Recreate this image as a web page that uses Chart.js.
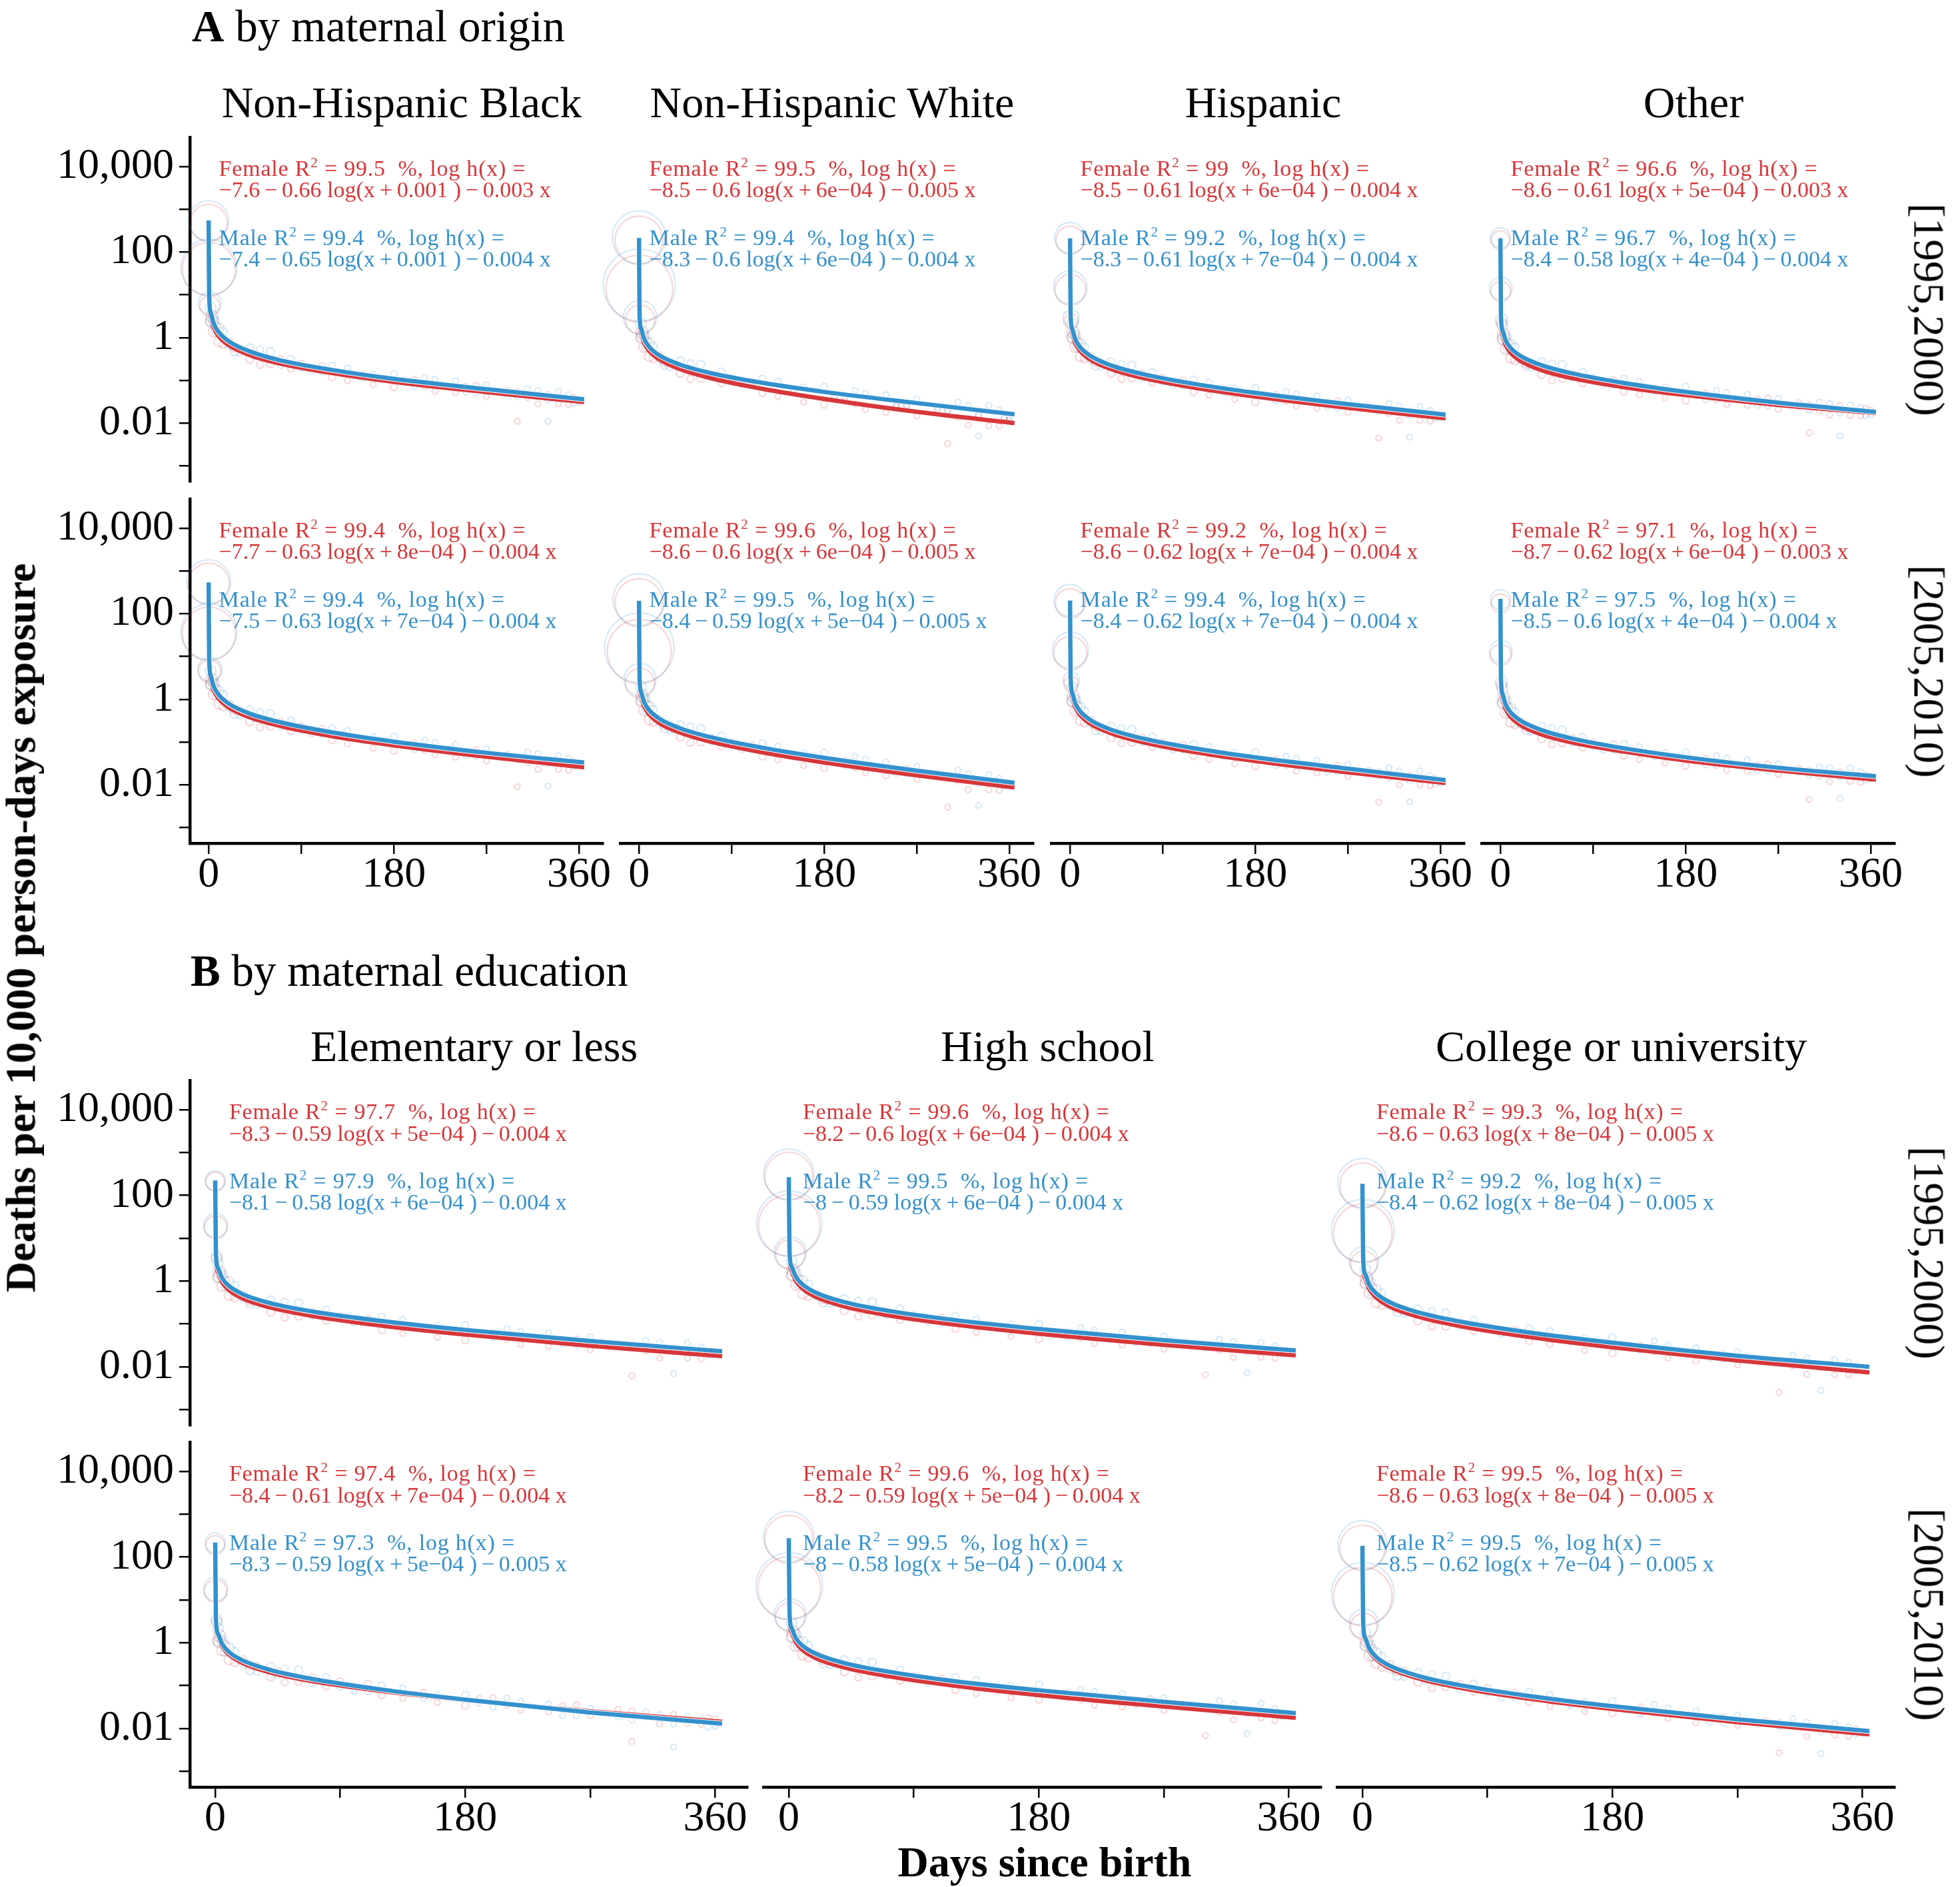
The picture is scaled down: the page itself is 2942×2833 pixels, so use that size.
<!DOCTYPE html>
<html><head><meta charset="utf-8">
<script src="https://cdn.jsdelivr.net/npm/chart.js"></script>
<style>
html,body{margin:0;padding:0;background:#fff;}
body{position:relative;width:2942px;height:2833px;overflow:hidden;font-family:'Liberation Serif','Times New Roman',serif;color:#000;}
canvas{position:absolute;}
.t{position:absolute;white-space:pre;}
.l1{letter-spacing:0.8px;}
.sup{position:relative;top:-0.62em;font-size:0.62em;line-height:0;}
</style></head><body>
<script>
// ===================== DATA =====================
const curveDays = [0, 0.5, 2, 5, 10, 20, 40, 70, 120, 180, 270, 365];
const scatterDaysF = [3, 10, 25, 60, 110, 180, 260, 340, 300];
const scatterDaysM = [3, 10, 25, 60, 110, 180, 260, 340, 330];
const dotDeaths = [9, 6, 5, 4, 3, 3, 2, 2, 2];
const scatterDays2 = [5, 20, 40, 70, 120, 150, 220, 300, 355];
const dotDeaths2 = [7, 4, 4, 3, 3, 2, 2, 2, 2];
const scatterDays3 = [2, 7, 14, 30, 50, 90, 135, 200, 240, 320];
const dotDeaths3 = [7, 5, 4, 3, 3, 3, 2, 2, 2, 2];
const scatterDays4 = [45, 80, 100, 160, 190, 210, 250, 270, 290, 310, 330, 350, 360];
const dotDeaths4 = [3, 3, 2, 2, 2, 2, 2, 2, 2, 2, 2, 2, 2];
const xTickValues = [0, 90, 180, 270, 360];
const xTickLabels = ['0', '', '180', '', '360'];
const yTickValues = [0.001, 0.01, 0.1, 1, 10, 100, 1000, 10000];
const yTickLabels = ['', '0.01', '', '1', '', '100', '', '10,000'];
const originCategories = ['Non-Hispanic Black', 'Non-Hispanic White', 'Hispanic', 'Other'];
const educationCategories = ['Elementary or less', 'High school', 'College or university'];
const periodLabels = ['[1995,2000)', '[2005,2010)'];

// fitted hazard curves (deaths per 10,000 person-days) at curveDays
const fitF_A95_black = [477, 7.89, 3.15, 1.71, 1.06, 0.653, 0.389, 0.245, 0.148, 0.092, 0.053, 0.031];
const fitM_A95_black = [545, 9.57, 3.86, 2.10, 1.32, 0.805, 0.473, 0.292, 0.175, 0.108, 0.062, 0.036];
const fitF_A95_white = [175, 3.08, 1.33, 0.756, 0.486, 0.305, 0.182, 0.112, 0.0632, 0.0366, 0.0183, 0.0100];
const fitM_A95_white = [213, 3.76, 1.63, 0.929, 0.600, 0.380, 0.232, 0.147, 0.0871, 0.0536, 0.0294, 0.0160];
const fitF_A95_hisp = [188, 3.10, 1.32, 0.748, 0.480, 0.302, 0.183, 0.115, 0.0679, 0.0417, 0.0227, 0.0129];
const fitM_A95_hisp = [209, 3.78, 1.61, 0.914, 0.586, 0.369, 0.223, 0.141, 0.0830, 0.0509, 0.0277, 0.0158];
const fitF_A95_other = [190, 2.81, 1.20, 0.679, 0.439, 0.279, 0.172, 0.112, 0.0693, 0.0452, 0.0265, 0.0172];
const fitM_A95_other = [210, 3.36, 1.49, 0.867, 0.568, 0.365, 0.225, 0.145, 0.0867, 0.0538, 0.0300, 0.0182];
const fitF_A05_black = [405, 7.00, 2.90, 1.61, 1.02, 0.634, 0.378, 0.236, 0.137, 0.0836, 0.0452, 0.0256];
const fitM_A05_black = [537, 8.55, 3.55, 1.97, 1.25, 0.774, 0.461, 0.288, 0.168, 0.102, 0.0560, 0.0330];
const fitF_A05_white = [158, 2.79, 1.20, 0.684, 0.440, 0.276, 0.165, 0.101, 0.0572, 0.0331, 0.0166, 0.0086];
const fitM_A05_white = [200, 3.37, 1.48, 0.849, 0.550, 0.348, 0.209, 0.129, 0.0733, 0.0427, 0.0214, 0.0111];
const fitF_A05_hisp = [166, 2.82, 1.19, 0.665, 0.424, 0.265, 0.159, 0.0998, 0.0586, 0.0358, 0.0195, 0.0110];
const fitM_A05_hisp = [203, 3.44, 1.45, 0.812, 0.518, 0.324, 0.194, 0.122, 0.0716, 0.0437, 0.0238, 0.0128];
const fitF_A05_other = [166, 2.56, 1.08, 0.605, 0.387, 0.245, 0.150, 0.0968, 0.0597, 0.0370, 0.0215, 0.0132];
const fitM_A05_other = [222, 3.08, 1.33, 0.760, 0.491, 0.311, 0.190, 0.120, 0.0713, 0.0440, 0.0250, 0.0158];
const fitF_B95_elem = [220, 3.73, 1.64, 0.944, 0.614, 0.392, 0.240, 0.153, 0.0912, 0.0565, 0.0310, 0.0177];
const fitM_B95_elem = [224, 4.53, 2.01, 1.17, 0.767, 0.493, 0.304, 0.195, 0.117, 0.0726, 0.0401, 0.0230];
const fitF_B95_high = [235, 4.15, 1.80, 1.03, 0.663, 0.420, 0.256, 0.162, 0.0962, 0.0592, 0.0325, 0.0185];
const fitM_B95_high = [267, 5.04, 2.21, 1.27, 0.828, 0.528, 0.324, 0.207, 0.123, 0.0762, 0.0419, 0.0240];
const fitF_B95_coll = [164, 2.84, 1.18, 0.652, 0.410, 0.252, 0.148, 0.0893, 0.0495, 0.0284, 0.0140, 0.0074];
const fitM_B95_coll = [187, 3.45, 1.45, 0.809, 0.513, 0.318, 0.187, 0.114, 0.0634, 0.0366, 0.0181, 0.0100];
const fitF_B05_elem = [189, 3.43, 1.46, 0.826, 0.530, 0.333, 0.202, 0.127, 0.0750, 0.0460, 0.0251, 0.0143];
const fitM_B05_elem = [220, 3.73, 1.63, 0.938, 0.607, 0.384, 0.231, 0.143, 0.0809, 0.0472, 0.0237, 0.0130];
const fitF_B05_high = [244, 4.13, 1.81, 1.04, 0.678, 0.433, 0.265, 0.169, 0.099, 0.0600, 0.0325, 0.0178];
const fitM_B05_high = [276, 5.00, 2.23, 1.29, 0.847, 0.545, 0.336, 0.216, 0.126, 0.0780, 0.0420, 0.0228];
const fitF_B05_coll = [164, 2.84, 1.18, 0.652, 0.410, 0.252, 0.148, 0.0893, 0.0495, 0.0284, 0.0140, 0.0073];
const fitM_B05_coll = [184, 3.12, 1.31, 0.732, 0.464, 0.288, 0.169, 0.103, 0.0574, 0.0331, 0.0164, 0.0087];

// observed daily rates (small circles) at scatterDaysF / scatterDaysM
const dotsF_A95_black = [3.15, 0.80, 0.59, 0.245, 0.215, 0.069, 0.077, 0.028, 0.011];
const dotsM_A95_black = [2.5, 1.65, 0.48, 0.47, 0.16, 0.14, 0.051, 0.056, 0.011];
const dotsF_A95_white = [1.33, 0.36, 0.27, 0.112, 0.092, 0.027, 0.027, 0.0086, 0.0033];
const dotsM_A95_white = [1.06, 0.75, 0.23, 0.235, 0.081, 0.070, 0.024, 0.026, 0.005];
const dotsF_A95_hisp = [1.32, 0.36, 0.27, 0.115, 0.098, 0.031, 0.033, 0.0116, 0.0045];
const dotsM_A95_hisp = [1.05, 0.73, 0.22, 0.226, 0.077, 0.066, 0.023, 0.0245, 0.0047];
const dotsF_A95_other = [1.2, 0.33, 0.25, 0.112, 0.10, 0.034, 0.039, 0.015, 0.0059];
const dotsM_A95_other = [0.97, 0.71, 0.22, 0.23, 0.081, 0.070, 0.025, 0.0265, 0.0051];
const dotsF_A05_black = [2.9, 0.77, 0.57, 0.236, 0.20, 0.063, 0.066, 0.023, 0.009];
const dotsM_A05_black = [2.3, 1.56, 0.46, 0.46, 0.156, 0.133, 0.046, 0.048, 0.0094];
const dotsF_A05_white = [1.2, 0.33, 0.25, 0.101, 0.083, 0.025, 0.024, 0.0077, 0.003];
const dotsM_A05_white = [0.96, 0.69, 0.21, 0.206, 0.068, 0.056, 0.018, 0.0172, 0.0033];
const dotsF_A05_hisp = [1.19, 0.32, 0.24, 0.10, 0.085, 0.027, 0.028, 0.0099, 0.0039];
const dotsM_A05_hisp = [0.94, 0.65, 0.19, 0.195, 0.067, 0.057, 0.020, 0.021, 0.004];
const dotsF_A05_other = [1.08, 0.29, 0.22, 0.097, 0.087, 0.028, 0.031, 0.012, 0.0046];
const dotsM_A05_other = [0.86, 0.61, 0.19, 0.19, 0.066, 0.057, 0.021, 0.0245, 0.0047];
const dotsF_B95_elem = [1.64, 0.46, 0.35, 0.153, 0.132, 0.042, 0.045, 0.016, 0.0062];
const dotsM_B95_elem = [1.3, 0.96, 0.30, 0.31, 0.109, 0.094, 0.033, 0.036, 0.0069];
const dotsF_B95_high = [1.8, 0.50, 0.38, 0.162, 0.14, 0.044, 0.047, 0.0167, 0.0065];
const dotsM_B95_high = [1.44, 1.03, 0.32, 0.33, 0.114, 0.099, 0.035, 0.037, 0.0072];
const dotsF_B95_coll = [1.18, 0.31, 0.23, 0.089, 0.072, 0.021, 0.020, 0.0065, 0.0025];
const dotsM_B95_coll = [0.94, 0.64, 0.19, 0.18, 0.059, 0.048, 0.015, 0.0146, 0.0028];
const dotsF_B05_elem = [1.46, 0.40, 0.30, 0.127, 0.109, 0.0345, 0.036, 0.013, 0.005];
const dotsM_B05_elem = [1.06, 0.76, 0.23, 0.23, 0.075, 0.061, 0.020, 0.019, 0.0037];
const dotsF_B05_high = [1.81, 0.51, 0.39, 0.169, 0.146, 0.047, 0.050, 0.0178, 0.0069];
const dotsM_B05_high = [1.45, 1.06, 0.33, 0.35, 0.12, 0.105, 0.037, 0.039, 0.0076];
const dotsF_B05_coll = [1.1, 0.33, 0.22, 0.095, 0.068, 0.023, 0.019, 0.007, 0.0027];
const dotsM_B05_coll = [0.85, 0.58, 0.17, 0.165, 0.053, 0.043, 0.0136, 0.0132, 0.0026];

// more observed daily rates at scatterDays2
const dots2F_A95_black = [1.37, 0.78, 0.31, 0.31, 0.118, 0.14, 0.056, 0.054, 0.040];
const dots2M_A95_black = [2.5, 0.68, 0.57, 0.23, 0.22, 0.11, 0.106, 0.042, 0.030];
const dots2F_A95_white = [0.60, 0.37, 0.146, 0.14, 0.051, 0.058, 0.021, 0.019, 0.0129];
const dots2M_A95_white = [1.11, 0.32, 0.28, 0.118, 0.109, 0.054, 0.050, 0.020, 0.0132];
const dots2F_A95_hisp = [0.60, 0.36, 0.146, 0.144, 0.054, 0.064, 0.025, 0.023, 0.0166];
const dots2M_A95_hisp = [1.10, 0.31, 0.27, 0.113, 0.104, 0.052, 0.048, 0.0188, 0.013];
const dots2F_A95_other = [0.54, 0.33, 0.138, 0.14, 0.055, 0.067, 0.027, 0.027, 0.022];
const dots2M_A95_other = [1.04, 0.31, 0.27, 0.116, 0.108, 0.054, 0.052, 0.020, 0.015];
const dots2F_A05_black = [1.29, 0.76, 0.30, 0.295, 0.110, 0.128, 0.050, 0.046, 0.033];
const dots2M_A05_black = [2.36, 0.66, 0.55, 0.23, 0.21, 0.105, 0.098, 0.038, 0.027];
const dots2F_A05_white = [0.55, 0.33, 0.132, 0.126, 0.046, 0.052, 0.019, 0.017, 0.011];
const dots2M_A05_white = [1.02, 0.30, 0.25, 0.103, 0.092, 0.045, 0.040, 0.0146, 0.0091];
const dots2F_A05_hisp = [0.53, 0.32, 0.127, 0.125, 0.047, 0.055, 0.021, 0.020, 0.0141];
const dots2M_A05_hisp = [0.97, 0.275, 0.23, 0.098, 0.090, 0.045, 0.041, 0.016, 0.0106];
const dots2F_A05_other = [0.48, 0.29, 0.12, 0.121, 0.048, 0.056, 0.022, 0.022, 0.017];
const dots2M_A05_other = [0.91, 0.26, 0.23, 0.096, 0.089, 0.045, 0.042, 0.017, 0.013];
const dots2F_B95_elem = [0.76, 0.47, 0.19, 0.19, 0.073, 0.086, 0.033, 0.032, 0.023];
const dots2M_B95_elem = [1.40, 0.42, 0.36, 0.156, 0.146, 0.074, 0.068, 0.027, 0.019];
const dots2F_B95_high = [0.82, 0.50, 0.205, 0.20, 0.077, 0.090, 0.035, 0.033, 0.024];
const dots2M_B95_high = [1.52, 0.45, 0.39, 0.166, 0.154, 0.078, 0.072, 0.028, 0.020];
const dots2F_B95_coll = [0.52, 0.30, 0.118, 0.112, 0.040, 0.045, 0.016, 0.0143, 0.0095];
const dots2M_B95_coll = [0.97, 0.27, 0.22, 0.091, 0.079, 0.038, 0.032, 0.0123, 0.0082];
const dots2F_B05_elem = [0.66, 0.40, 0.16, 0.159, 0.060, 0.071, 0.027, 0.026, 0.018];
const dots2M_B05_elem = [1.13, 0.33, 0.28, 0.114, 0.101, 0.050, 0.044, 0.016, 0.0107];
const dots2F_B05_high = [0.83, 0.52, 0.21, 0.21, 0.079, 0.092, 0.035, 0.033, 0.023];
const dots2M_B05_high = [1.55, 0.46, 0.40, 0.173, 0.158, 0.079, 0.073, 0.029, 0.019];
const dots2F_B05_coll = [0.50, 0.31, 0.12, 0.108, 0.042, 0.043, 0.017, 0.0138, 0.0098];
const dots2M_B05_coll = [0.88, 0.245, 0.20, 0.082, 0.072, 0.035, 0.030, 0.0111, 0.0072];

// further observed daily rates at scatterDays3
const dots3F_A95_black = [2.36, 1.83, 0.70, 0.56, 0.23, 0.243, 0.098, 0.104, 0.051, 0.028];
const dots3M_A95_black = [5.0, 1.39, 1.36, 0.45, 0.52, 0.196, 0.193, 0.070, 0.097, 0.058];
const dots3F_A95_white = [1.0, 0.81, 0.32, 0.26, 0.107, 0.111, 0.042, 0.041, 0.0178, 0.009];
const dots3M_A95_white = [2.1, 0.61, 0.62, 0.21, 0.25, 0.098, 0.096, 0.035, 0.046, 0.026];
const dots3F_A95_hisp = [0.99, 0.80, 0.32, 0.26, 0.108, 0.114, 0.045, 0.047, 0.022, 0.0116];
const dots3M_A95_hisp = [2.1, 0.60, 0.60, 0.21, 0.24, 0.094, 0.091, 0.033, 0.043, 0.025];
const dots3F_A95_other = [0.90, 0.73, 0.29, 0.24, 0.101, 0.111, 0.046, 0.051, 0.026, 0.0155];
const dots3M_A95_other = [1.94, 0.57, 0.59, 0.20, 0.245, 0.097, 0.095, 0.035, 0.047, 0.029];
const dots3F_A05_black = [2.18, 1.72, 0.67, 0.55, 0.22, 0.234, 0.090, 0.094, 0.044, 0.023];
const dots3M_A05_black = [4.6, 1.30, 1.29, 0.43, 0.50, 0.193, 0.185, 0.066, 0.088, 0.053];
const dots3F_A05_white = [0.90, 0.73, 0.29, 0.24, 0.097, 0.10, 0.038, 0.037, 0.0161, 0.0077];
const dots3M_A05_white = [1.92, 0.56, 0.57, 0.195, 0.23, 0.086, 0.081, 0.028, 0.034, 0.018];
const dots3F_A05_hisp = [0.89, 0.71, 0.28, 0.23, 0.094, 0.099, 0.039, 0.040, 0.019, 0.0099];
const dots3M_A05_hisp = [1.89, 0.54, 0.53, 0.18, 0.21, 0.082, 0.079, 0.028, 0.037, 0.021];
const dots3F_A05_other = [0.81, 0.65, 0.255, 0.21, 0.089, 0.096, 0.039, 0.042, 0.021, 0.0119];
const dots3M_A05_other = [1.73, 0.50, 0.51, 0.174, 0.21, 0.080, 0.078, 0.029, 0.039, 0.025];
const dots3F_B95_elem = [1.23, 1.01, 0.41, 0.34, 0.142, 0.151, 0.060, 0.064, 0.030, 0.016];
const dots3M_B95_elem = [2.6, 0.77, 0.79, 0.28, 0.33, 0.131, 0.129, 0.047, 0.063, 0.037];
const dots3F_B95_high = [1.35, 1.10, 0.44, 0.36, 0.151, 0.160, 0.063, 0.067, 0.032, 0.0167];
const dots3M_B95_high = [2.9, 0.84, 0.85, 0.30, 0.35, 0.139, 0.135, 0.050, 0.066, 0.039];
const dots3F_B95_coll = [0.89, 0.70, 0.27, 0.22, 0.087, 0.088, 0.033, 0.032, 0.0136, 0.0067];
const dots3M_B95_coll = [1.89, 0.53, 0.53, 0.178, 0.20, 0.076, 0.070, 0.024, 0.028, 0.016];
const dots3F_B05_elem = [1.10, 0.88, 0.35, 0.29, 0.119, 0.126, 0.050, 0.052, 0.024, 0.0129];
const dots3M_B05_elem = [2.1, 0.62, 0.63, 0.215, 0.25, 0.096, 0.089, 0.031, 0.037, 0.021];
const dots3F_B05_high = [1.36, 1.11, 0.45, 0.37, 0.156, 0.167, 0.065, 0.068, 0.032, 0.016];
const dots3M_B05_high = [2.9, 0.85, 0.87, 0.305, 0.37, 0.145, 0.139, 0.051, 0.066, 0.037];
const dots3F_B05_coll = [0.88, 0.70, 0.27, 0.22, 0.087, 0.088, 0.033, 0.032, 0.0136, 0.0066];
const dots3M_B05_coll = [1.70, 0.48, 0.48, 0.161, 0.184, 0.069, 0.063, 0.0215, 0.026, 0.014];

// later-infancy observed daily rates at scatterDays4
const dots4F_A95_black = [0.416, 0.189, 0.198, 0.079, 0.101, 0.071, 0.072, 0.042, 0.059, 0.039, 0.047, 0.027, 0.036];
const dots4M_A95_black = [0.374, 0.318, 0.158, 0.140, 0.089, 0.117, 0.053, 0.078, 0.049, 0.064, 0.035, 0.046, 0.031];
const dots4F_A95_white = [0.195, 0.086, 0.085, 0.031, 0.040, 0.028, 0.025, 0.0146, 0.0205, 0.0135, 0.015, 0.0086, 0.0117];
const dots4M_A95_white = [0.183, 0.160, 0.078, 0.070, 0.044, 0.058, 0.025, 0.037, 0.023, 0.031, 0.0154, 0.0205, 0.0139];
const dots4F_A95_hisp = [0.196, 0.089, 0.091, 0.036, 0.046, 0.032, 0.031, 0.018, 0.025, 0.0168, 0.0194, 0.0111, 0.0151];
const dots4M_A95_hisp = [0.176, 0.154, 0.075, 0.066, 0.042, 0.055, 0.024, 0.035, 0.022, 0.029, 0.0152, 0.020, 0.0137];
const dots4F_A95_other = [0.184, 0.086, 0.093, 0.039, 0.050, 0.035, 0.036, 0.021, 0.030, 0.0196, 0.026, 0.0148, 0.020];
const dots4M_A95_other = [0.178, 0.158, 0.078, 0.070, 0.044, 0.058, 0.026, 0.0375, 0.0237, 0.031, 0.0175, 0.023, 0.0158];
const dots4F_A05_black = [0.404, 0.182, 0.184, 0.072, 0.092, 0.064, 0.061, 0.036, 0.051, 0.033, 0.038, 0.022, 0.030];
const dots4M_A05_black = [0.364, 0.314, 0.151, 0.133, 0.084, 0.110, 0.048, 0.070, 0.044, 0.058, 0.032, 0.042, 0.029];
const dots4F_A05_white = [0.177, 0.078, 0.077, 0.028, 0.036, 0.025, 0.022, 0.0133, 0.0186, 0.0123, 0.0129, 0.0074, 0.0101];
const dots4M_A05_white = [0.165, 0.141, 0.066, 0.056, 0.035, 0.046, 0.0184, 0.027, 0.0169, 0.022, 0.0107, 0.0142, 0.0097];
const dots4F_A05_hisp = [0.170, 0.077, 0.079, 0.031, 0.039, 0.028, 0.026, 0.0156, 0.0218, 0.0144, 0.0165, 0.0095, 0.0129];
const dots4M_A05_hisp = [0.153, 0.133, 0.064, 0.057, 0.036, 0.047, 0.020, 0.030, 0.0188, 0.025, 0.0123, 0.0164, 0.0111];
const dots4F_A05_other = [0.161, 0.075, 0.080, 0.032, 0.041, 0.028, 0.029, 0.0172, 0.024, 0.0159, 0.0198, 0.0114, 0.0154];
const dots4M_A05_other = [0.150, 0.131, 0.064, 0.057, 0.036, 0.048, 0.0215, 0.031, 0.0198, 0.026, 0.0152, 0.020, 0.0137];
const dots4F_B95_elem = [0.257, 0.118, 0.122, 0.049, 0.062, 0.044, 0.042, 0.025, 0.035, 0.023, 0.027, 0.0152, 0.021];
const dots4M_B95_elem = [0.240, 0.213, 0.105, 0.094, 0.060, 0.078, 0.034, 0.050, 0.032, 0.042, 0.022, 0.029, 0.020];
const dots4F_B95_high = [0.274, 0.125, 0.129, 0.051, 0.065, 0.046, 0.044, 0.026, 0.036, 0.024, 0.028, 0.0159, 0.0216];
const dots4M_B95_high = [0.256, 0.226, 0.111, 0.099, 0.062, 0.082, 0.036, 0.052, 0.033, 0.044, 0.023, 0.031, 0.021];
const dots4F_B95_coll = [0.158, 0.069, 0.066, 0.024, 0.031, 0.022, 0.0189, 0.0112, 0.0157, 0.0104, 0.0111, 0.0064, 0.0087];
const dots4M_B95_coll = [0.148, 0.124, 0.057, 0.048, 0.030, 0.040, 0.0156, 0.0226, 0.0143, 0.0188, 0.0096, 0.0128, 0.0087];
const dots4F_B05_elem = [0.216, 0.098, 0.100, 0.040, 0.051, 0.035, 0.034, 0.020, 0.028, 0.0186, 0.0215, 0.0123, 0.0167];
const dots4M_B05_elem = [0.182, 0.156, 0.073, 0.061, 0.039, 0.051, 0.020, 0.030, 0.0187, 0.0246, 0.0125, 0.0166, 0.0113];
const dots4F_B05_high = [0.284, 0.130, 0.133, 0.052, 0.066, 0.046, 0.044, 0.026, 0.036, 0.024, 0.027, 0.0153, 0.0208];
const dots4M_B05_high = [0.265, 0.235, 0.113, 0.101, 0.064, 0.084, 0.036, 0.0525, 0.033, 0.044, 0.0219, 0.029, 0.0198];
const dots4F_B05_coll = [0.150, 0.072, 0.064, 0.025, 0.030, 0.023, 0.0180, 0.0118, 0.0150, 0.0108, 0.0105, 0.0066, 0.0083];
const dots4M_B05_coll = [0.134, 0.112, 0.052, 0.043, 0.027, 0.036, 0.0141, 0.0205, 0.013, 0.0171, 0.0084, 0.0111, 0.0076];

// first-day observations: [day, rate, deaths]
const bigF_A95_black = [[0,480,87],[0.3,40,178],[1,5.5,25]];
const bigM_A95_black = [[0,540,100],[0.3,44,196],[1,6.5,32]];
const bigF_A95_white = [[0,190,144],[0.3,14,278],[1,2.6,54]];
const bigM_A95_white = [[0,220,178],[0.3,17,324],[1,3.0,69]];
const bigF_A95_hisp = [[0,190,49],[0.3,13,59],[1,2.4,13]];
const bigM_A95_hisp = [[0,215,59],[0.3,15,69],[1,2.9,16]];
const bigF_A95_other = [[0,190,22],[0.3,12,25],[1,2.2,7]];
const bigM_A95_other = [[0,215,25],[0.3,14,32],[1,2.6,9]];
const bigF_A05_black = [[0,500,107],[0.3,34,178],[1,4.5,32]];
const bigM_A05_black = [[0,560,121],[0.3,38,196],[1,5,36]];
const bigF_A05_white = [[0,180,144],[0.3,13,256],[1,2.4,54]];
const bigM_A05_white = [[0,215,169],[0.3,16,300],[1,2.9,64]];
const bigF_A05_hisp = [[0,175,54],[0.3,12,69],[1,2.3,13]];
const bigM_A05_hisp = [[0,205,64],[0.3,14,81],[1,2.8,16]];
const bigF_A05_other = [[0,175,22],[0.3,11,28],[1,2.1,7]];
const bigM_A05_other = [[0,215,25],[0.3,13,32],[1,2.5,9]];
const bigF_B95_elem = [[0,210,22],[0.3,18,32],[1,3.4,7]];
const bigM_B95_elem = [[0,220,25],[0.3,20,36],[1,3.8,7]];
const bigF_B95_high = [[0,280,144],[0.3,20,235],[1,4.2,54]];
const bigM_B95_high = [[0,310,160],[0.3,22,267],[1,4.6,64]];
const bigF_B95_coll = [[0,170,128],[0.3,13,215],[1,2.5,44]];
const bigM_B95_coll = [[0,195,152],[0.3,15,245],[1,2.9,54]];
const bigF_B05_elem = [[0,190,22],[0.3,16,32],[1,3.1,7]];
const bigM_B05_elem = [[0,215,25],[0.3,18,36],[1,3.5,7]];
const bigF_B05_high = [[0,260,144],[0.3,19,245],[1,4.0,54]];
const bigM_B05_high = [[0,300,160],[0.3,21,278],[1,4.5,64]];
const bigF_B05_coll = [[0,165,128],[0.3,12,215],[1,2.4,44]];
const bigM_B05_coll = [[0,190,152],[0.3,14,245],[1,2.8,54]];

// fit annotations (panel order: A 1995 x4, A 2005 x4, B 1995 x3, B 2005 x3)
const r2Female = ['99.5','99.5','99','96.6','99.4','99.6','99.2','97.1','97.7','99.6','99.3','97.4','99.6','99.5'];
const r2Male   = ['99.4','99.4','99.2','96.7','99.4','99.5','99.4','97.5','97.9','99.5','99.2','97.3','99.5','99.5'];
const eqFemale = [
 '-7.6 - 0.66 log(x + 0.001 ) - 0.003 x','-8.5 - 0.6 log(x + 6e-04 ) - 0.005 x',
 '-8.5 - 0.61 log(x + 6e-04 ) - 0.004 x','-8.6 - 0.61 log(x + 5e-04 ) - 0.003 x',
 '-7.7 - 0.63 log(x + 8e-04 ) - 0.004 x','-8.6 - 0.6 log(x + 6e-04 ) - 0.005 x',
 '-8.6 - 0.62 log(x + 7e-04 ) - 0.004 x','-8.7 - 0.62 log(x + 6e-04 ) - 0.003 x',
 '-8.3 - 0.59 log(x + 5e-04 ) - 0.004 x','-8.2 - 0.6 log(x + 6e-04 ) - 0.004 x',
 '-8.6 - 0.63 log(x + 8e-04 ) - 0.005 x','-8.4 - 0.61 log(x + 7e-04 ) - 0.004 x',
 '-8.2 - 0.59 log(x + 5e-04 ) - 0.004 x','-8.6 - 0.63 log(x + 8e-04 ) - 0.005 x'];
const eqMale = [
 '-7.4 - 0.65 log(x + 0.001 ) - 0.004 x','-8.3 - 0.6 log(x + 6e-04 ) - 0.004 x',
 '-8.3 - 0.61 log(x + 7e-04 ) - 0.004 x','-8.4 - 0.58 log(x + 4e-04 ) - 0.004 x',
 '-7.5 - 0.63 log(x + 7e-04 ) - 0.004 x','-8.4 - 0.59 log(x + 5e-04 ) - 0.005 x',
 '-8.4 - 0.62 log(x + 7e-04 ) - 0.004 x','-8.5 - 0.6 log(x + 4e-04 ) - 0.004 x',
 '-8.1 - 0.58 log(x + 6e-04 ) - 0.004 x','-8 - 0.59 log(x + 6e-04 ) - 0.004 x',
 '-8.4 - 0.62 log(x + 8e-04 ) - 0.005 x','-8.3 - 0.59 log(x + 5e-04 ) - 0.005 x',
 '-8 - 0.58 log(x + 5e-04 ) - 0.004 x','-8.5 - 0.62 log(x + 7e-04 ) - 0.005 x'];

const panelData = [
 [fitF_A95_black, fitM_A95_black, bigF_A95_black, bigM_A95_black, dotsF_A95_black, dotsM_A95_black, dots2F_A95_black, dots2M_A95_black, dots3F_A95_black, dots3M_A95_black, dots4F_A95_black, dots4M_A95_black],
 [fitF_A95_white, fitM_A95_white, bigF_A95_white, bigM_A95_white, dotsF_A95_white, dotsM_A95_white, dots2F_A95_white, dots2M_A95_white, dots3F_A95_white, dots3M_A95_white, dots4F_A95_white, dots4M_A95_white],
 [fitF_A95_hisp, fitM_A95_hisp, bigF_A95_hisp, bigM_A95_hisp, dotsF_A95_hisp, dotsM_A95_hisp, dots2F_A95_hisp, dots2M_A95_hisp, dots3F_A95_hisp, dots3M_A95_hisp, dots4F_A95_hisp, dots4M_A95_hisp],
 [fitF_A95_other, fitM_A95_other, bigF_A95_other, bigM_A95_other, dotsF_A95_other, dotsM_A95_other, dots2F_A95_other, dots2M_A95_other, dots3F_A95_other, dots3M_A95_other, dots4F_A95_other, dots4M_A95_other],
 [fitF_A05_black, fitM_A05_black, bigF_A05_black, bigM_A05_black, dotsF_A05_black, dotsM_A05_black, dots2F_A05_black, dots2M_A05_black, dots3F_A05_black, dots3M_A05_black, dots4F_A05_black, dots4M_A05_black],
 [fitF_A05_white, fitM_A05_white, bigF_A05_white, bigM_A05_white, dotsF_A05_white, dotsM_A05_white, dots2F_A05_white, dots2M_A05_white, dots3F_A05_white, dots3M_A05_white, dots4F_A05_white, dots4M_A05_white],
 [fitF_A05_hisp, fitM_A05_hisp, bigF_A05_hisp, bigM_A05_hisp, dotsF_A05_hisp, dotsM_A05_hisp, dots2F_A05_hisp, dots2M_A05_hisp, dots3F_A05_hisp, dots3M_A05_hisp, dots4F_A05_hisp, dots4M_A05_hisp],
 [fitF_A05_other, fitM_A05_other, bigF_A05_other, bigM_A05_other, dotsF_A05_other, dotsM_A05_other, dots2F_A05_other, dots2M_A05_other, dots3F_A05_other, dots3M_A05_other, dots4F_A05_other, dots4M_A05_other],
 [fitF_B95_elem, fitM_B95_elem, bigF_B95_elem, bigM_B95_elem, dotsF_B95_elem, dotsM_B95_elem, dots2F_B95_elem, dots2M_B95_elem, dots3F_B95_elem, dots3M_B95_elem, dots4F_B95_elem, dots4M_B95_elem],
 [fitF_B95_high, fitM_B95_high, bigF_B95_high, bigM_B95_high, dotsF_B95_high, dotsM_B95_high, dots2F_B95_high, dots2M_B95_high, dots3F_B95_high, dots3M_B95_high, dots4F_B95_high, dots4M_B95_high],
 [fitF_B95_coll, fitM_B95_coll, bigF_B95_coll, bigM_B95_coll, dotsF_B95_coll, dotsM_B95_coll, dots2F_B95_coll, dots2M_B95_coll, dots3F_B95_coll, dots3M_B95_coll, dots4F_B95_coll, dots4M_B95_coll],
 [fitF_B05_elem, fitM_B05_elem, bigF_B05_elem, bigM_B05_elem, dotsF_B05_elem, dotsM_B05_elem, dots2F_B05_elem, dots2M_B05_elem, dots3F_B05_elem, dots3M_B05_elem, dots4F_B05_elem, dots4M_B05_elem],
 [fitF_B05_high, fitM_B05_high, bigF_B05_high, bigM_B05_high, dotsF_B05_high, dotsM_B05_high, dots2F_B05_high, dots2M_B05_high, dots3F_B05_high, dots3M_B05_high, dots4F_B05_high, dots4M_B05_high],
 [fitF_B05_coll, fitM_B05_coll, bigF_B05_coll, bigM_B05_coll, dotsF_B05_coll, dotsM_B05_coll, dots2F_B05_coll, dots2M_B05_coll, dots3F_B05_coll, dots3M_B05_coll, dots4F_B05_coll, dots4M_B05_coll]
];

// ===================== STYLE / LAYOUT =====================
const RED = '#D7363A', BLUE = '#3391CD';
const RED_A = 'rgba(215,54,58,0.19)', BLUE_A = 'rgba(51,145,205,0.19)';
const FONT = "'Liberation Serif', 'Times New Roman', serif";
Chart.defaults.font.family = FONT;
const Y_MIN = Math.pow(10, -3.368), Y_MAX = Math.pow(10, 4.685);
const X_MIN = -18.25, X_MAX = 383.25;
const LAY_A = {lefts:[285, 931, 1578, 2224], w:620, tops:[206, 749], h:517};
const LAY_B = {lefts:[285, 1146, 2007], w:837, tops:[1622, 2165], h:518};
const ANN_X = 10, ANN_LOG = [3.77, 3.27, 2.16, 1.66];

const geo = [];
[LAY_A, LAY_B].forEach(L => {
  for (let r = 0; r < 2; r++) for (let c = 0; c < L.lefts.length; c++)
    geo.push({left:L.lefts[c], top:L.tops[r], w:L.w, h:L.h, showY:c===0, showX:r===1});
});

const radiusOf = n => 3 * Math.sqrt(n);
const toPts = (days, vals) => days.map((d, i) => ({x:d, y:vals[i]}));
const bigPts = arr => arr.map(a => ({x:a[0], y:a[1], n:a[2]}));
const dotPts = (days, vals, deaths) => days.map((d, i) => ({x:d, y:vals[i], n:deaths[i]}));
const fmtEq = s => s.replace(/ - /g, '\u2009\u2212\u2009').replace(/ \+ /g, '\u2009+\u2009').replace(/-/g, '\u2212');

function addText(html, x, baseline, size, opts) {
  opts = opts || {};
  const d = document.createElement('div');
  d.className = 't' + (opts.cls ? ' ' + opts.cls : '');
  d.innerHTML = html;
  d.style.fontSize = size + 'px';
  d.style.lineHeight = size + 'px';
  d.style.left = x + 'px';
  d.style.top = (baseline - 0.8375 * size) + 'px';
  if (opts.color) d.style.color = opts.color;
  if (opts.bold) d.style.fontWeight = 'bold';
  if (opts.center) d.style.transform = 'translateX(-50%)';
  document.body.appendChild(d);
  return d;
}
function addRotText(text, bx, cy, size, angle, bold) {
  const d = document.createElement('div');
  d.className = 't';
  d.textContent = text;
  d.style.fontSize = size + 'px';
  d.style.lineHeight = size + 'px';
  d.style.left = bx + 'px';
  d.style.top = cy + 'px';
  if (bold) d.style.fontWeight = 'bold';
  d.style.transformOrigin = '0 0';
  d.style.transform = 'rotate(' + angle + 'deg) translate(-50%, -0.8375em)';
  document.body.appendChild(d);
}

function ptStyle(col, ord) {
  return {showLine:false, clip:false, order:ord, pointStyle:'circle',
    pointRadius: c => radiusOf(c.raw.n), pointHoverRadius: c => radiusOf(c.raw.n),
    pointBackgroundColor:'rgba(0,0,0,0)', pointBorderColor:col, pointBorderWidth:2.3};
}
function lineStyle(col, width, ord) {
  return {showLine:true, pointRadius:0, borderColor:col, borderWidth:width,
    cubicInterpolationMode:'monotone', clip:false, order:ord, fill:false};
}

function makePanel(g, d, idx) {
  const ML = g.showY ? 260 : 80, MR = 80, MT = 80, MB = g.showX ? 120 : 80;
  const W = g.w + ML + MR, H = g.h + MT + MB;
  const cv = document.createElement('canvas');
  cv.width = W; cv.height = H;
  cv.style.width = W + 'px'; cv.style.height = H + 'px';
  const cl = g.left - ML, ct = g.top - MT;
  cv.style.left = cl + 'px'; cv.style.top = ct + 'px';
  document.body.appendChild(cv);
  const [fitF, fitM, bigF, bigM, dotsF, dotsM, dots2F, dots2M, dots3F, dots3M, dots4F, dots4M] = d;
  const ptsF = bigPts(bigF).concat(dotPts(scatterDaysF, dotsF, dotDeaths),
    dotPts(scatterDays2, dots2F, dotDeaths2), dotPts(scatterDays3, dots3F, dotDeaths3),
    dotPts(scatterDays4, dots4F, dotDeaths4));
  const ptsM = bigPts(bigM).concat(dotPts(scatterDaysM, dotsM, dotDeaths),
    dotPts(scatterDays2, dots2M, dotDeaths2), dotPts(scatterDays3, dots3M, dotDeaths3),
    dotPts(scatterDays4, dots4M, dotDeaths4));
  const chart = new Chart(cv, {
    type:'scatter',
    data:{datasets:[
      Object.assign({data: ptsF}, ptStyle(RED_A, 5)),
      Object.assign({data: ptsM}, ptStyle(BLUE_A, 4)),
      Object.assign({data: toPts(curveDays, fitF)}, lineStyle(RED, 6.5, 3)),
      Object.assign({data: toPts(curveDays, fitM)}, lineStyle('#FFFFFF', 8.5, 2)),
      Object.assign({data: toPts(curveDays, fitM)}, lineStyle(BLUE, 6.5, 1))
    ]},
    options:{
      responsive:false, animation:false, devicePixelRatio:1, events:[],
      layout:{padding:{left: g.showY ? 0 : ML, right: MR, top: MT, bottom: g.showX ? 0 : MB}},
      plugins:{legend:{display:false}, tooltip:{enabled:false}},
      scales:{
        x:{type:'linear', min:X_MIN, max:X_MAX, display:g.showX,
          afterBuildTicks: s => { s.ticks = xTickValues.map(v => ({value:v})); },
          afterFit: s => { s.height = g.showX ? MB : 0; },
          ticks:{callback:(v, i) => xTickLabels[i], font:{size:64, family:FONT}, color:'#000',
                 padding:-6, maxRotation:0, minRotation:0, autoSkip:false},
          grid:{drawOnChartArea:false, drawTicks:true, tickLength:16, lineWidth:2.5, color:'#000'},
          border:{display:true, width:4.5, color:'#000'}},
        y:{type:'logarithmic', min:Y_MIN, max:Y_MAX, display:g.showY,
          afterBuildTicks: s => { s.ticks = yTickValues.map(v => ({value:v})); },
          afterFit: s => { s.width = g.showY ? ML : 0; },
          ticks:{callback:(v, i) => yTickLabels[i], font:{size:64, family:FONT}, color:'#000',
                 padding:8, autoSkip:false},
          grid:{drawOnChartArea:false, drawTicks:true, tickLength:16, lineWidth:2.5, color:'#000'},
          border:{display:true, width:4.5, color:'#000'}}
      }
    }
  });
  // fit annotations, placed in data coordinates
  const xs = chart.scales.x, ys = chart.scales.y;
  const ax = cl + xs.getPixelForValue(ANN_X);
  const by = v => ct + ys.getPixelForValue(Math.pow(10, v));
  addText('Female R<span class="sup">2</span> = ' + r2Female[idx] + '  %, log h(x) =', ax, by(ANN_LOG[0]), 34, {color:RED, cls:'l1'});
  addText(fmtEq(eqFemale[idx]), ax, by(ANN_LOG[1]), 34, {color:RED});
  addText('Male R<span class="sup">2</span> = ' + r2Male[idx] + '  %, log h(x) =', ax, by(ANN_LOG[2]), 34, {color:BLUE, cls:'l1'});
  addText(fmtEq(eqMale[idx]), ax, by(ANN_LOG[3]), 34, {color:BLUE});
}

geo.forEach((g, i) => makePanel(g, panelData[i], i));

// ===================== TITLES =====================
addText('<b>A</b> by maternal origin', 288, 62, 67);
addText('<b>B</b> by maternal education', 286, 1480, 67);
originCategories.forEach((t, c) => addText(t, LAY_A.lefts[c] + LAY_A.w / 2 + 8, 176, 66, {center:true}));
educationCategories.forEach((t, c) => addText(t, LAY_B.lefts[c] + LAY_B.w / 2 + 8, 1593, 66, {center:true}));
[LAY_A, LAY_B].forEach(L => {
  L.tops.forEach((t, r) => addRotText(periodLabels[r], 2873, t + L.h / 2, 65, 90, false));
});
addText('Days since birth', 1568, 2818, 64, {center:true, bold:true});
addRotText('Deaths per 10,000 person-days exposure', 53, 1393, 64, -90, true);
</script>
</body></html>
